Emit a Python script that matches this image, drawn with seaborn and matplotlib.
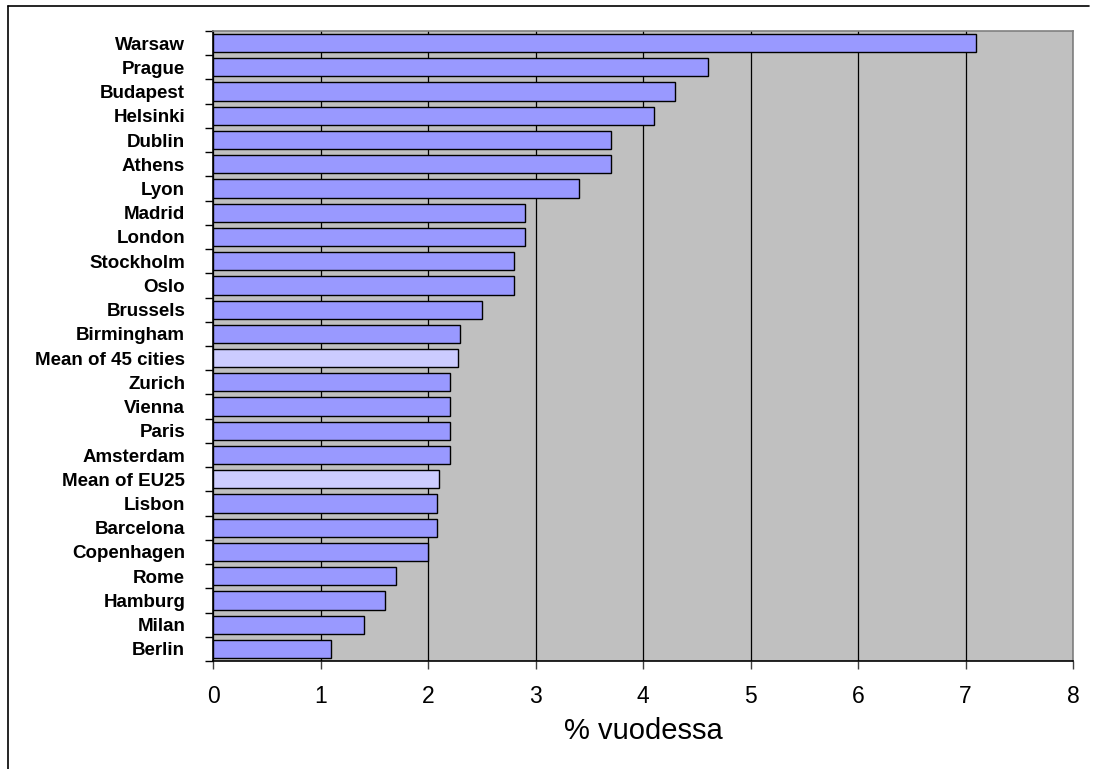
import matplotlib
matplotlib.use("Agg")
import matplotlib.pyplot as plt
from matplotlib.lines import Line2D
import seaborn as sns
import pandas as pd
import numpy as np

cities = ["Warsaw", "Prague", "Budapest", "Helsinki", "Dublin", "Athens", "Lyon",
          "Madrid", "London", "Stockholm", "Oslo", "Brussels", "Birmingham",
          "Mean of 45 cities", "Zurich", "Vienna", "Paris", "Amsterdam",
          "Mean of EU25", "Lisbon", "Barcelona", "Copenhagen", "Rome", "Hamburg",
          "Milan", "Berlin"]
values = [7.1, 4.6, 4.3, 4.1, 3.7, 3.7, 3.4,
          2.9, 2.9, 2.8, 2.8, 2.5, 2.3,
          2.28, 2.2, 2.2, 2.2, 2.2,
          2.1, 2.08, 2.08, 2.0, 1.7, 1.6,
          1.4, 1.1]
mean_labels = ["Mean of 45 cities", "Mean of EU25"]
x_ticks = [0, 1, 2, 3, 4, 5, 6, 7, 8]
x_label = "% vuodessa"

sns.set_style("white")
plt.rcParams["font.family"] = ["Liberation Sans", "DejaVu Sans"]
plt.rcParams["text.color"] = "black"
plt.rcParams["axes.labelcolor"] = "black"
plt.rcParams["xtick.color"] = "black"
plt.rcParams["ytick.color"] = "black"

df = pd.DataFrame({"city": cities, "value": values})
palette = {c: ("#CCCCFF" if c in mean_labels else "#9999FF") for c in cities}

fig = plt.figure(figsize=(10.94, 7.69), dpi=100)
ax = fig.add_axes([213 / 1094, 1 - 661 / 769, (1073 - 213) / 1094, (661 - 31) / 769])
ax.set_facecolor("#C0C0C0")

sns.barplot(data=df, x="value", y="city", hue="city", palette=palette, legend=False,
            orient="h", width=0.75, saturation=1, edgecolor="black", linewidth=1.0,
            ax=ax, zorder=3)

ax.set_xlim(0, 8)
ax.set_ylim(len(cities) - 0.5, -0.5)
ax.set_xticks(x_ticks)
ax.set_xticklabels([str(t) for t in x_ticks], fontsize=16.5)
ax.xaxis.grid(True, color="black", linewidth=0.9, zorder=1)
ax.set_axisbelow(True)
ax.tick_params(axis="x", direction="out", length=6, width=1, color="#404040", pad=11, bottom=True)

ax.set_yticks(np.arange(len(cities)))
ax.set_yticklabels(cities, fontsize=13.5, fontweight="bold")
ax.tick_params(axis="y", which="major", length=0, pad=20)
ax.set_yticks(np.arange(len(cities) + 1) - 0.5, minor=True)
ax.tick_params(axis="y", which="minor", direction="out", length=6, width=1, color="black", left=True)

ax.set_xlabel(x_label, fontsize=21, labelpad=7)
ax.set_ylabel("")

for side in ["left", "bottom"]:
    ax.spines[side].set_color("black")
    ax.spines[side].set_linewidth(1.2)
for side in ["top", "right"]:
    ax.spines[side].set_visible(True)
    ax.spines[side].set_color("#808080")
    ax.spines[side].set_linewidth(1.2)

# outer chart frame (top and left edges)
fig.add_artist(Line2D([8 / 1094, 1089 / 1094], [1 - 6 / 769, 1 - 6 / 769],
                      transform=fig.transFigure, color="black", linewidth=1.2))
fig.add_artist(Line2D([8 / 1094, 8 / 1094], [1 - 6 / 769, 0],
                      transform=fig.transFigure, color="black", linewidth=1.2))

fig.savefig("out.png", dpi=100, facecolor="white")
